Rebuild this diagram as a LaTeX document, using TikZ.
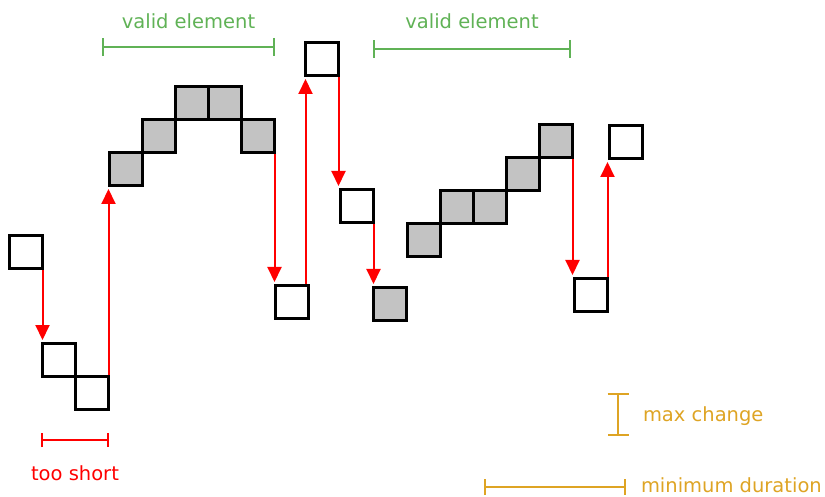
\documentclass[tikz,border=0pt]{standalone}
\usepackage{fontspec}
\setmainfont{DejaVu Sans}
\usetikzlibrary{arrows.meta, positioning}
\definecolor{cGreen}{RGB}{96,178,86}
\definecolor{cRed}{RGB}{255,0,0}
\definecolor{cOrange}{RGB}{222,164,36}
\definecolor{cCell}{RGB}{195,195,195}
\tikzset{
	cell/.style   ={rectangle, draw=black, line width=3pt, minimum size=33pt, inner sep=0pt, outer sep=0pt},
	kept/.style   ={cell, fill=cCell},
	jump/.style   ={-{Triangle[width=14pt, length=15pt]}, draw=cRed, line width=2pt, shorten >=3.5pt, shorten <=1.5pt},
	% duration / tolerance markers
	spanbar/.style={line width=2pt},
	lbl/.style    ={font=\fontsize{19.5}{23}\selectfont, inner sep=0pt},
}

\begin{document}
\begin{tikzpicture}[x=1pt, y=-1pt]
	\useasboundingbox (0,0) rectangle (825,497);
	% short run at the start
	\node[cell] (s1) at (26,252) {};
	\node[cell] (s2) at (59,360) {};
	\node[cell, below right=0pt of s2] (s3) {};
	% first valid element
	\node[kept] (g1) at (126,169) {};
	\node[kept, above right=0pt of g1] (g2) {};
	\node[kept, above right=0pt of g2] (g3) {};
	\node[kept, right=0pt of g3] (g4) {};
	\node[kept, below right=0pt of g4] (g5) {};
	% spikes in between
	\node[cell] (b1) at (292,302) {};
	\node[cell] (t1) at (322,59) {};
	\node[cell] (m1) at (357,206) {};
	\node[kept] (g6) at (390,304) {};
	% second valid element
	\node[kept] (h1) at (424,240) {};
	\node[kept, above right=0pt of h1] (h2) {};
	\node[kept, right=0pt of h2] (h3) {};
	\node[kept, above right=0pt of h3] (h4) {};
	\node[kept, above right=0pt of h4] (h5) {};
	\node[cell] (b2) at (591,295) {};
	\node[cell] (t2) at (626,142) {};
	% jumps
	\draw[jump] (s1.south east) -- (s1.south east |- s2.north);
	\draw[jump] (s3.north east) -- (s3.north east |- g1.south);
	\draw[jump] (g5.south east) -- (g5.south east |- b1.north);
	\draw[jump] (t1.south west |- b1.north) -- (t1.south west);
	\draw[jump] (t1.south east) -- (t1.south east |- m1.north);
	\draw[jump] (m1.south east) -- (m1.south east |- g6.north);
	\draw[jump] (h5.south east) -- (h5.south east |- b2.north);
	\draw[jump] (b2.north east) -- (b2.north east |- t2.south);
	% markers
	\coordinate (va) at (102,47);
	\coordinate (vb) at (275,47);
	\coordinate (wa) at (373,49);
	\coordinate (wb) at (571,49);
	\coordinate (ta) at (41,440);
	\coordinate (tb) at (109,440);
	\coordinate (ca) at (618,393);
	\coordinate (cb) at (618,436);
	\coordinate (da) at (484,487);
	\coordinate (db) at (626,487);
	\draw[spanbar, cGreen, {Bar[width=18pt]}-{Bar[width=18pt]}] (va) -- node[lbl, above=17pt] {valid element} (vb);
	\draw[spanbar, cGreen, {Bar[width=18pt]}-{Bar[width=18pt]}] (wa) -- node[lbl, above=19pt] {valid element} (wb);
	\draw[spanbar, cRed, {Bar[width=14pt]}-{Bar[width=14pt]}] (ta) -- node[lbl, below=25pt] {too short} (tb);
	\draw[spanbar, cOrange, {Bar[width=21pt]}-{Bar[width=21pt]}] (ca) -- node[lbl, anchor=west, xshift=24pt, yshift=-2pt] {max change} (cb);
	\draw[spanbar, cOrange, {Bar[width=16pt]}-{Bar[width=16pt]}] (da) -- (db) node[lbl, anchor=west, xshift=14pt, yshift=2pt] {minimum duration};
\end{tikzpicture}
\end{document}
